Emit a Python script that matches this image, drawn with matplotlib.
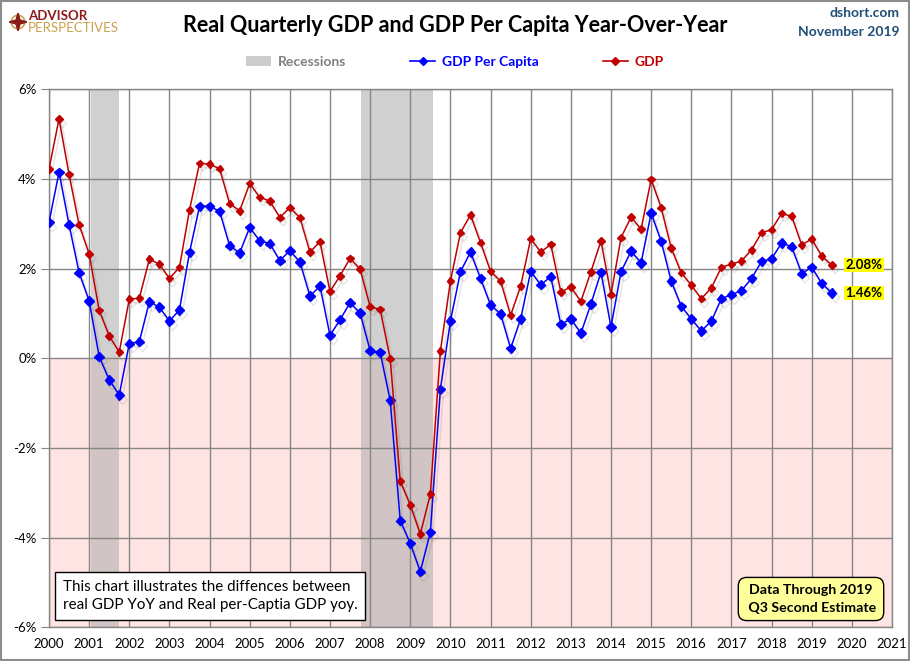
import matplotlib
matplotlib.use("Agg")
import matplotlib.pyplot as plt
import matplotlib.patheffects as pe
from matplotlib.patches import Rectangle, Circle
from matplotlib.lines import Line2D
import numpy as np
import pandas as pd

plt.rcParams["font.family"] = ["Lato", "DejaVu Sans"]

quarters = pd.period_range("2000Q1", "2019Q3", freq="Q")
gdp = [
    4.22, 5.34, 4.10, 2.98,
    2.33, 1.07, 0.50, 0.14,
    1.32, 1.34, 2.21, 2.10,
    1.78, 2.03, 3.31, 4.35,
    4.33, 4.23, 3.45, 3.29,
    3.90, 3.59, 3.51, 3.14,
    3.36, 3.14, 2.37, 2.60,
    1.49, 1.84, 2.23, 1.99,
    1.15, 1.09, -0.01, -2.74,
    -3.27, -3.92, -3.03, 0.16,
    1.72, 2.80, 3.20, 2.58,
    1.94, 1.72, 0.96, 1.61,
    2.67, 2.37, 2.54, 1.48,
    1.59, 1.27, 1.93, 2.62,
    1.42, 2.69, 3.15, 2.88,
    3.99, 3.36, 2.46, 1.91,
    1.63, 1.33, 1.57, 2.03,
    2.10, 2.17, 2.42, 2.80,
    2.87, 3.23, 3.17, 2.53,
    2.66, 2.28, 2.08,
]
gdp_per_capita = [
    3.03, 4.15, 2.98, 1.91,
    1.28, 0.04, -0.48, -0.82,
    0.33, 0.37, 1.26, 1.14,
    0.83, 1.08, 2.36, 3.39,
    3.39, 3.28, 2.51, 2.35,
    2.92, 2.62, 2.56, 2.18,
    2.40, 2.15, 1.39, 1.61,
    0.51, 0.86, 1.24, 1.01,
    0.17, 0.13, -0.94, -3.62,
    -4.13, -4.76, -3.88, -0.69,
    0.83, 1.93, 2.37, 1.78,
    1.19, 0.99, 0.22, 0.88,
    1.94, 1.64, 1.82, 0.76,
    0.88, 0.56, 1.21, 1.92,
    0.70, 1.93, 2.39, 2.13,
    3.24, 2.61, 1.72, 1.16,
    0.88, 0.61, 0.83, 1.33,
    1.42, 1.51, 1.78, 2.16,
    2.22, 2.57, 2.49, 1.89,
    2.03, 1.67, 1.46,
]
recessions = [(2001.05, 2001.75), (2007.78, 2009.56)]
year_ticks = list(range(2000, 2022))
pct_ticks = [-6, -4, -2, 0, 2, 4, 6]

t = np.array([q.year + (q.quarter - 1) / 4 for q in quarters])

BLUE = "#0000FF"
RED = "#C00000"
GRID = "#868686"

fig = plt.figure(figsize=(9.1, 6.61), dpi=100)
ax = fig.add_axes([49 / 910, 1 - 627.3 / 661, 843 / 910, (627.3 - 89.3) / 661])

ax.axhspan(-6, 0, color="#FFE4E4", zorder=0, lw=0)
for a, b in recessions:
    ax.axvspan(a, b, color="#AAAAAA", alpha=0.55, lw=0, zorder=1)

shadow = [pe.SimpleLineShadow(offset=(2, -3), shadow_color="#555555", alpha=0.15), pe.Normal()]
ax.plot(t, gdp, color=RED, lw=1.1, marker="D", ms=3.8, zorder=4, path_effects=shadow)
ax.plot(t, gdp_per_capita, color=BLUE, lw=1.1, marker="D", ms=4.8, zorder=3, path_effects=shadow)

ax.set_xlim(2000, 2021)
ax.set_ylim(-6, 6)
ax.set_xticks(year_ticks)
ax.set_xticklabels([str(y) for y in year_ticks], fontsize=9.5)
ax.set_yticks(pct_ticks)
ax.set_yticklabels([f"{v}%" for v in pct_ticks], fontsize=9.5)
ax.tick_params(axis="x", length=0, pad=8)
ax.tick_params(axis="y", length=6, color=GRID, pad=3)
ax.grid(True, color=GRID, lw=1.0)
for s in ax.spines.values():
    s.set_color(GRID)
    s.set_linewidth(1.0)
for gl in ax.get_xgridlines() + ax.get_ygridlines():
    gl.set_zorder(2)

# last value labels
for val in (gdp[-1], gdp_per_capita[-1]):
    ax.annotate(f"{val:.2f}%", (t[-1], val), xytext=(10, 0), textcoords="offset points",
                va="center", ha="left", fontsize=9.5, fontweight="bold",
                bbox=dict(boxstyle="square,pad=0.1", fc="#FFFF00", ec="none"), zorder=6)

# note boxes
fig.text(63 / 910, 1 - 596 / 661,
         "This chart illustrates the diffences between\nreal GDP YoY and Real per-Captia GDP yoy.",
         fontsize=10.9, va="center", ha="left", linespacing=1.45,
         bbox=dict(boxstyle="square,pad=0.5", fc="white", ec="black", lw=1.0))
fig.text(811 / 910, 1 - 599 / 661, "Data Through 2019\n Q3 Second Estimate",
         fontsize=10.2, fontweight="bold", va="center", ha="center", linespacing=1.5,
         bbox=dict(boxstyle="round,pad=0.5,rounding_size=0.6", fc="#FFFF99", ec="black", lw=1.0))

# legend
handles = [
    Rectangle((0, 0), 1, 1, fc="#CCCCCC", ec="none"),
    Line2D([], [], color=BLUE, marker="D", ms=4.5, lw=1.2),
    Line2D([], [], color=RED, marker="D", ms=4, lw=1.2),
]
leg = fig.legend(handles, ["Recessions", "GDP Per Capita", "GDP"], loc="center",
                 bbox_to_anchor=(455 / 910, 1 - 62 / 661), ncol=3, frameon=False,
                 columnspacing=4.6, handlelength=1.8, handletextpad=0.5,
                 prop={"weight": "bold", "size": 10})
for txt, c in zip(leg.get_texts(), ["#7F7F7F", BLUE, RED]):
    txt.set_color(c)

# header
fig.text(455 / 910, 1 - 25 / 661, "Real Quarterly GDP and GDP Per Capita Year-Over-Year",
         ha="center", va="center", fontsize=15.5, fontweight="bold")
fig.text(900 / 910, 1 - 13 / 661, "dshort.com", ha="right", va="center",
         fontsize=10, fontweight="bold", color="#1F4E79")
fig.text(900 / 910, 1 - 32 / 661, "November 2019", ha="right", va="center",
         fontsize=10, fontweight="bold", color="#1F4E79")

# logo
fig.text(28 / 910, 1 - 16 / 661, "ADVISOR", ha="left", va="center",
         fontsize=9.5, fontweight="bold", color="#8B1A1A")
fig.text(28 / 910, 1 - 28 / 661, "PERSPECTIVES", ha="left", va="center",
         fontsize=9.5, color="#C9A24D")
logo = fig.add_axes([9 / 910, 1 - 31 / 661, 18 / 910, 18 / 661])
logo.set_xlim(-1, 1)
logo.set_ylim(-1, 1)
logo.set_aspect("equal")
logo.axis("off")
logo.add_patch(Circle((0, 0), 0.75, fc="none", ec="#C9A24D", lw=1.2))
logo.fill([0, 0.22, 1, 0.22, 0, -0.22, -1, -0.22], [1, 0.22, 0, -0.22, -1, -0.22, 0, 0.22],
          color="#8B1A1A")

# outer border
fig.add_artist(Rectangle((0.001, 0.001), 0.998, 0.998, transform=fig.transFigure,
                         fill=False, ec="#8C8C8C", lw=1.5))

fig.savefig("out.png", dpi=100)
